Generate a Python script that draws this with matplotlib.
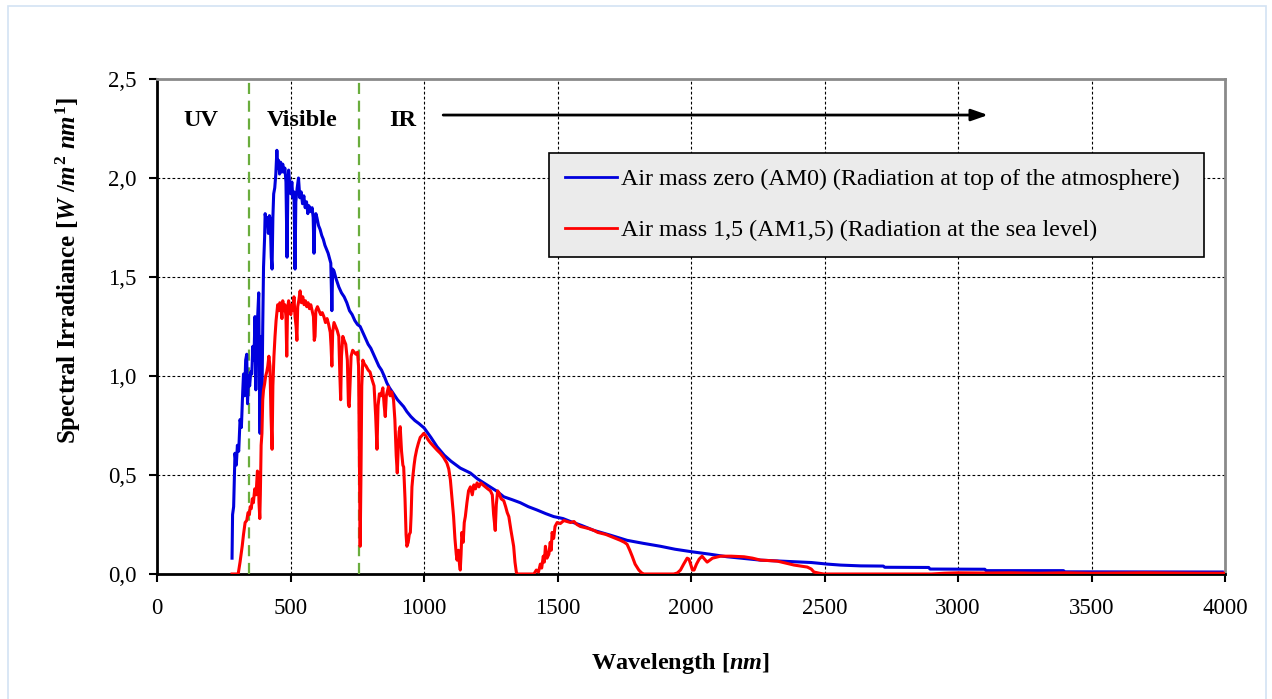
import matplotlib
matplotlib.use("Agg")
import matplotlib.pyplot as plt
from matplotlib.patches import Rectangle
from matplotlib.ticker import FuncFormatter

plt.rcParams['font.family'] = ['Liberation Serif', 'DejaVu Serif']
plt.rcParams['mathtext.fontset'] = 'custom'
plt.rcParams['mathtext.rm'] = 'Liberation Serif:bold'
plt.rcParams['mathtext.it'] = 'Liberation Serif:italic:bold'
plt.rcParams['mathtext.bf'] = 'Liberation Serif:bold'

# ---- data ----
am0_wl = [280, 282, 286, 291, 296, 300, 305, 310, 315, 320, 323, 327, 331, 335, 338, 342, 346, 350,
          354, 358, 362, 366, 369, 372, 376, 380, 383, 385, 388, 392, 395, 398, 402, 404, 408, 412,
          416, 420, 423, 427, 430, 433, 436, 440, 444, 448, 451, 454, 458, 462, 466, 470, 474, 478,
          482, 486, 489, 492, 496, 500, 504, 508, 512, 516, 519, 524, 529, 534, 539, 544, 549, 554,
          559, 564, 568, 572, 576, 580, 584, 587, 590, 594, 598, 604, 610, 616, 622, 628, 634, 640,
          646, 650, 654, 657, 662, 670, 680, 690, 700, 710, 720, 730, 740, 750, 760, 770, 780, 790,
          800, 810, 820, 830, 840, 850, 860, 870, 880, 890, 900, 910, 923, 935, 950, 965, 980, 1000,
          1025, 1048, 1075, 1100, 1135, 1173, 1200, 1235, 1270, 1298, 1330, 1360, 1390, 1423, 1455,
          1485, 1520, 1548, 1590, 1636, 1700, 1760, 1820, 1885, 1940, 2004, 2070, 2135, 2200, 2260,
          2320, 2385, 2450, 2510, 2560, 2635, 2720, 2725, 2890, 2895, 3100, 3105, 3395, 3400, 3990]
am0_val = [0.08, 0.30, 0.34, 0.61, 0.55, 0.65, 0.62, 0.78, 0.74, 0.92, 1.01, 0.90, 1.08, 1.11, 0.86,
           1.00, 0.95, 1.02, 1.01, 1.15, 1.08, 1.30, 0.93, 1.20, 1.30, 1.42, 0.90, 0.71, 1.20, 0.85,
           1.25, 1.55, 1.70, 1.82, 1.78, 1.80, 1.72, 1.81, 1.79, 1.60, 1.54, 1.80, 1.92, 1.95, 2.02,
           2.14, 2.05, 2.09, 2.02, 2.08, 2.03, 2.07, 2.03, 2.05, 1.98, 1.60, 1.93, 2.04, 1.97, 1.92,
           1.98, 1.90, 1.93, 1.54, 1.88, 1.95, 2.00, 1.90, 1.93, 1.87, 1.91, 1.85, 1.88, 1.82, 1.86,
           1.84, 1.83, 1.85, 1.80, 1.62, 1.78, 1.82, 1.80, 1.76, 1.74, 1.71, 1.69, 1.66, 1.64, 1.62,
           1.59, 1.57, 1.33, 1.54, 1.53, 1.49, 1.45, 1.42, 1.40, 1.37, 1.33, 1.31, 1.28, 1.26, 1.25,
           1.22, 1.19, 1.16, 1.14, 1.11, 1.08, 1.05, 1.03, 1.00, 0.965, 0.94, 0.92, 0.90, 0.88, 0.865,
           0.845, 0.82, 0.795, 0.775, 0.76, 0.737, 0.69, 0.643, 0.60, 0.57, 0.535, 0.51, 0.48, 0.45,
           0.42, 0.39, 0.375, 0.36, 0.34, 0.323, 0.305, 0.29, 0.28, 0.265, 0.245, 0.22, 0.195, 0.17,
           0.155, 0.14, 0.125, 0.112, 0.10, 0.087, 0.078, 0.07, 0.066, 0.062, 0.058, 0.05, 0.045,
           0.041, 0.040, 0.034, 0.033, 0.025, 0.024, 0.017, 0.017, 0.011, 0.010]

am15_wl = [280, 303, 310, 318, 323, 329, 335, 340, 345, 348, 352, 356, 360, 365, 370, 375, 378, 381,
           384, 386, 389, 392, 395, 398, 402, 406, 410, 414, 418, 422, 426, 430, 433, 437, 441, 445,
           448, 451, 455, 459, 463, 467, 470, 474, 478, 482, 485, 488, 492, 496, 500, 504, 508, 512,
           516, 520, 523, 526, 530, 535, 540, 545, 550, 555, 560, 565, 570, 575, 580, 585, 588, 591,
           594, 600, 606, 612, 618, 624, 630, 636, 642, 648, 651, 654, 657, 662, 668, 674, 680, 684,
           687, 690, 695, 700, 706, 712, 716, 719, 722, 726, 732, 738, 744, 750, 754, 757, 760, 763,
           766, 770, 776, 782, 790, 797, 805, 812, 818, 823, 827, 832, 838, 845, 850, 854, 858, 866,
           872, 878, 885, 890, 895, 899, 903, 906, 910, 915, 920, 923, 928, 932, 935, 940, 944, 948,
           951, 954, 958, 962, 966, 972, 978, 985, 992, 998, 1005, 1015, 1025, 1035, 1048, 1060, 1072,
           1085, 1092, 1098, 1104, 1110, 1115, 1120, 1123, 1128, 1132, 1135, 1138, 1141, 1146, 1150,
           1154, 1160, 1166, 1173, 1180, 1186, 1192, 1198, 1205, 1212, 1220, 1229, 1238, 1248, 1255,
           1260, 1266, 1270, 1275, 1280, 1288, 1298, 1305, 1311, 1317, 1325, 1330, 1335, 1340, 1345,
           1348, 1411, 1420, 1428, 1435, 1440, 1446, 1450, 1454, 1460, 1467, 1472, 1476, 1479, 1485,
           1490, 1498, 1510, 1523, 1535, 1548, 1561, 1572, 1585, 1600, 1615, 1636, 1650, 1665, 1680,
           1698, 1715, 1735, 1750, 1760, 1770, 1779, 1790, 1804, 1815, 1823, 1935, 1948, 1960, 1972,
           1985, 1992, 2000, 2005, 2011, 2020, 2030, 2041, 2050, 2060, 2070, 2080, 2095, 2110, 2150,
           2198, 2230, 2260, 2290, 2323, 2355, 2386, 2410, 2435, 2450, 2460, 2480, 2497, 2900, 2950,
           3000, 3100, 3200, 3300, 3400, 3500, 3600, 3700, 3800, 3900, 4000]
am15_val = [0.0, 0.0, 0.06, 0.14, 0.20, 0.26, 0.27, 0.31, 0.30, 0.34, 0.33, 0.38, 0.36, 0.43, 0.40,
            0.52, 0.51, 0.36, 0.28, 0.40, 0.65, 0.71, 0.88, 0.93, 0.96, 1.00, 1.02, 1.05, 1.10, 1.05,
            0.80, 0.63, 0.95, 1.10, 1.20, 1.28, 1.32, 1.36, 1.33, 1.37, 1.35, 1.29, 1.38, 1.33, 1.36,
            1.30, 1.10, 1.34, 1.38, 1.35, 1.31, 1.36, 1.33, 1.40, 1.30, 1.25, 1.18, 1.35, 1.38, 1.43,
            1.37, 1.40, 1.36, 1.38, 1.35, 1.37, 1.34, 1.36, 1.33, 1.30, 1.18, 1.20, 1.33, 1.35, 1.33,
            1.31, 1.32, 1.30, 1.27, 1.29, 1.26, 1.22, 1.15, 1.05, 1.22, 1.27, 1.25, 1.23, 1.20, 1.00,
            0.88, 1.10, 1.20, 1.18, 1.16, 1.08, 0.86, 0.845, 0.95, 1.10, 1.13, 1.12, 1.11, 1.12, 1.05,
            0.60, 0.14, 0.50, 0.95, 1.08, 1.06, 1.05, 1.03, 1.02, 0.98, 0.95, 0.80, 0.63, 0.85, 0.91,
            0.90, 0.94, 0.85, 0.795, 0.90, 0.945, 0.90, 0.92, 0.88, 0.78, 0.60, 0.51, 0.65, 0.72,
            0.744, 0.62, 0.55, 0.54, 0.38, 0.20, 0.14, 0.16, 0.20, 0.21, 0.30, 0.44, 0.50, 0.55, 0.59,
            0.63, 0.66, 0.69, 0.70, 0.71, 0.70, 0.677, 0.66, 0.645, 0.626, 0.61, 0.59, 0.56, 0.53,
            0.475, 0.38, 0.29, 0.18, 0.10, 0.07, 0.12, 0.05, 0.02, 0.10, 0.21, 0.16, 0.26, 0.29, 0.36,
            0.42, 0.44, 0.40, 0.45, 0.43, 0.46, 0.44, 0.46, 0.45, 0.44, 0.43, 0.42, 0.40, 0.30, 0.22,
            0.35, 0.42, 0.41, 0.38, 0.37, 0.34, 0.31, 0.29, 0.22, 0.18, 0.14, 0.06, 0.01, 0.0, 0.0,
            0.02, 0.01, 0.05, 0.03, 0.09, 0.06, 0.14, 0.08, 0.10, 0.16, 0.12, 0.21, 0.18, 0.24, 0.26,
            0.255, 0.27, 0.265, 0.26, 0.265, 0.25, 0.24, 0.235, 0.23, 0.22, 0.21, 0.205, 0.20, 0.19,
            0.18, 0.17, 0.16, 0.15, 0.12, 0.09, 0.05, 0.02, 0.005, 0.0, 0.0, 0.005, 0.02, 0.05, 0.08,
            0.075, 0.04, 0.02, 0.02, 0.05, 0.075, 0.09, 0.075, 0.06, 0.07, 0.08, 0.085, 0.09, 0.09,
            0.087, 0.08, 0.07, 0.068, 0.065, 0.055, 0.045, 0.04, 0.035, 0.025, 0.01, 0.004, 0.0, 0.0,
            0.004, 0.006, 0.005, 0.006, 0.004, 0.006, 0.004, 0.005, 0.006, 0.005, 0.004, 0.004]

region_bounds = [345, 755]
region_labels = ["UV", "Visible", "IR"]
region_label_x = [96, 411, 868]
x_ticks = [0, 500, 1000, 1500, 2000, 2500, 3000, 3500, 4000]
y_ticks = [0.0, 0.5, 1.0, 1.5, 2.0, 2.5]
series_labels = ["Air mass zero (AM0) (Radiation at top of the atmosphere)",
                 "Air mass 1,5 (AM1,5) (Radiation at the sea level)"]

W, H = 1272, 699
fig = plt.figure(figsize=(W / 100, H / 100), dpi=100)
fig.patches.append(Rectangle((8 / W, -0.02), (1266 - 8) / W, 1 - 6 / H + 0.02,
                             transform=fig.transFigure, fill=False,
                             edgecolor='#d3e3f3', linewidth=1.2))

ax = fig.add_axes([157.3 / W, (H - 574) / H, (1225 - 157.3) / W, (574 - 79) / H])
ax.set_xlim(0, 4000)
ax.set_ylim(0, 2.5)

ax.grid(True, color='black', linestyle=(0, (2.5, 2)), linewidth=0.8)
ax.set_axisbelow(True)

for b in region_bounds:
    ax.axvline(b, color='#6aad3d', linestyle=(0, (5, 3)), linewidth=1.6, zorder=3)

l0, = ax.plot(am0_wl, am0_val, color='#0000dd', linewidth=2.2, zorder=4, label=series_labels[0])
l1, = ax.plot(am15_wl, am15_val, color='#ff0000', linewidth=2.2, zorder=5, label=series_labels[1])

for lab, xx in zip(region_labels, region_label_x):
    ax.text(xx, 2.288, lab, fontsize=17.5, fontweight='bold', ha='left', va='center')

ax.annotate('', xy=(3112, 2.318), xytext=(1071, 2.318),
            arrowprops=dict(arrowstyle='-|>,head_length=1.0,head_width=0.35', color='black',
                            linewidth=2, shrinkA=0, shrinkB=0))

ax.set_xticks(x_ticks)
ax.set_yticks(y_ticks)
ax.xaxis.set_major_formatter(FuncFormatter(lambda v, p: f"{v:.0f}"))
ax.yaxis.set_major_formatter(FuncFormatter(lambda v, p: f"{v:.1f}".replace('.', ',')))
ax.tick_params(direction='out', length=6, width=1.5, labelsize=16.5, colors='black')
ax.tick_params(axis='x', pad=11)
ax.tick_params(axis='y', pad=9)

for s in ['left', 'bottom']:
    ax.spines[s].set_color('black')
    ax.spines[s].set_linewidth(2)
for s in ['top', 'right']:
    ax.spines[s].set_color('#8a8a8a')
    ax.spines[s].set_linewidth(2)

ax.set_xlabel("Wavelength [$nm$]", fontsize=17.5, fontweight='bold')
ax.xaxis.set_label_coords(0.49, (574 - 664) / 495, transform=ax.transAxes)
ax.xaxis.label.set_va('center')
ax.set_ylabel("Spectral Irradiance [$W$ /$m^2$ $nm^1$]", fontsize=18, fontweight='bold')
ax.yaxis.set_label_coords((68 - 157.3) / 1067.7, (574 - 270) / 495, transform=ax.transAxes)
ax.yaxis.label.set_va('center')

leg = ax.legend(handles=[l0, l1], loc='lower left',
                bbox_to_anchor=((549 - 157.3) / 1067.7, (574 - 257) / 495, (1204 - 549) / 1067.7, 0.2),
                mode='expand', fontsize=17.3, frameon=True, fancybox=False, framealpha=1,
                facecolor='#ebebeb', edgecolor='black', handlelength=2.17, handletextpad=0.17,
                labelspacing=1.2, borderpad=0.66, borderaxespad=0)
leg.get_frame().set_linewidth(1.2)
for h in leg.legend_handles:
    h.set_linewidth(2)

fig.savefig("out.png", dpi=100)
